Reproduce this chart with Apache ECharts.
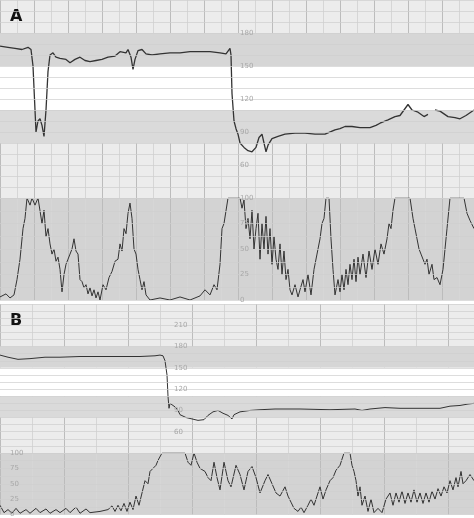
<!DOCTYPE html>
<html><head><meta charset="utf-8">
<script src="https://cdn.jsdelivr.net/npm/echarts@6/dist/echarts.min.js"></script>
<style>html,body{margin:0;padding:0;background:#fff}#chart{width:474px;height:518px}</style>
</head><body><div id="chart"></div>
<script>
// panel A: fetal heart rate (bpm) and uterine activity (%)
var fhrA = [[0,168],[8,167],[15,166],[22,165],[28,167],[31,165],[33,150],[35,110],[36,90],[38,100],[40,102],[42,96],[44,86],[46,110],[48,145],[50,160],[53,162],[56,158],[60,157],[66,156],[70,153],[75,156],[80,158],[85,155],[90,154],[96,155],[102,156],[108,158],[115,159],[120,163],[126,162],[128,165],[131,158],[133,147],[135,156],[138,164],[142,165],[146,161],[152,160],[160,161],[170,162],[180,162],[190,163],[200,163],[210,163],[220,162],[226,161],[230,166],[231,160],[232,125],[234,100],[236,93],[238,88],[240,80],[244,76],[248,73],[252,72],[256,76],[259,85],[262,88],[264,80],[266,72],[268,78],[272,84],[278,86],[285,88],[295,89],[305,89],[315,88],[325,88],[335,92],[340,93],[345,95],[352,95],[360,94],[370,94],[376,96],[380,98],[388,101],[395,104],[400,105],[404,110],[408,115],[412,110],[418,108],[424,104],[428,106],[null,null],[435,110],[440,109],[448,104],[455,103],[460,102],[466,105],[474,110]];
var tocoA = [[0,3],[6,6],[10,2],[14,5],[17,20],[20,40],[23,70],[25,80],[27,100],[30,93],[32,100],[35,93],[38,100],[40,100],[42,75],[44,88],[46,62],[48,70],[50,55],[52,45],[54,50],[56,38],[58,42],[60,30],[62,8],[64,25],[66,35],[68,40],[70,45],[72,50],[74,60],[76,48],[78,45],[80,20],[82,18],[84,12],[86,15],[88,6],[90,12],[92,4],[94,10],[96,2],[98,8],[100,0],[103,15],[106,10],[109,22],[112,28],[115,38],[118,40],[120,55],[122,48],[124,70],[126,65],[128,85],[130,95],[132,80],[134,50],[136,45],[138,30],[140,20],[142,10],[144,18],[146,5],[150,0],[160,2],[170,0],[180,3],[190,0],[200,4],[205,10],[210,5],[214,15],[217,10],[220,35],[222,70],[224,75],[228,100],[240,100],[242,90],[244,98],[246,70],[248,80],[250,60],[252,88],[254,50],[256,70],[258,85],[260,40],[262,75],[264,50],[266,82],[268,45],[270,70],[272,35],[274,62],[276,40],[278,30],[280,55],[282,25],[284,48],[286,20],[288,30],[290,10],[292,5],[295,15],[298,3],[300,10],[303,20],[305,8],[308,25],[311,5],[314,30],[317,45],[320,60],[322,75],[324,80],[326,100],[329,100],[331,60],[333,30],[335,5],[338,20],[340,8],[342,25],[344,10],[346,30],[348,15],[350,35],[352,20],[354,40],[356,18],[358,42],[360,25],[363,45],[366,22],[369,48],[372,30],[375,50],[378,35],[381,55],[384,45],[387,60],[389,75],[391,70],[393,88],[395,100],[410,100],[413,80],[415,70],[417,60],[419,50],[421,45],[423,40],[425,35],[427,40],[429,25],[432,35],[434,20],[437,22],[440,15],[443,30],[445,50],[447,70],[450,100],[464,100],[467,85],[470,78],[474,70]];
// panel B
var fhrB = [[0,168],[8,165],[18,162],[30,163],[45,165],[60,165],[80,166],[100,166],[120,166],[140,166],[155,167],[160,168],[163,167],[165,160],[167,140],[168,110],[169,93],[170,100],[172,98],[175,95],[178,90],[180,84],[186,80],[192,78],[198,76],[204,77],[208,83],[213,88],[218,90],[223,86],[228,83],[232,78],[234,84],[240,88],[250,90],[260,91],[275,92],[300,92],[330,91],[355,92],[362,90],[370,92],[385,94],[400,93],[420,93],[440,93],[450,96],[460,97],[468,99],[474,100]];
var tocoB = [[0,15],[4,3],[8,8],[12,2],[16,10],[20,2],[26,8],[30,2],[36,10],[40,3],[46,9],[50,2],[56,8],[60,3],[66,10],[70,3],[76,12],[80,2],[86,9],[90,3],[100,5],[108,8],[112,14],[115,5],[118,15],[121,6],[124,18],[127,5],[130,20],[133,8],[136,30],[139,15],[142,35],[145,55],[148,50],[150,70],[153,75],[156,80],[158,88],[162,100],[185,100],[188,85],[191,80],[194,100],[197,85],[200,75],[205,70],[208,60],[211,55],[214,85],[217,60],[220,40],[224,85],[228,55],[231,45],[236,80],[240,65],[244,40],[248,70],[252,78],[256,60],[260,35],[265,55],[268,65],[272,50],[276,35],[280,30],[285,45],[288,30],[291,20],[294,10],[298,5],[301,12],[304,3],[308,15],[311,25],[314,15],[317,30],[320,45],[323,25],[326,40],[330,55],[333,60],[336,72],[340,80],[344,100],[350,100],[352,80],[354,70],[356,55],[358,30],[360,45],[362,15],[365,30],[368,5],[371,25],[374,3],[378,10],[382,3],[386,25],[390,35],[393,15],[396,35],[399,20],[402,38],[405,18],[408,35],[411,20],[414,40],[417,20],[420,35],[423,18],[426,35],[429,20],[432,38],[435,25],[438,42],[441,30],[444,45],[447,35],[450,55],[453,40],[456,60],[458,45],[461,70],[463,50],[466,55],[470,65],[474,55]];
var fhrTicksA = [60, 90, 120, 150, 180];
var fhrTicksB = [60, 90, 120, 150, 180, 210];
var tocoTicks = [0, 25, 50, 75, 100];

var grid = '#bcbcbc', ink = '#333', lab = '#a8a8a8';
// chart time starts at 0; the paper grid lines are offset by shift
function xAx(gi, shift, iv) {
  return {type: 'value', gridIndex: gi, min: -shift, max: 474 - shift, interval: iv,
    axisLine: {show: false}, axisTick: {show: false}, axisLabel: {show: false},
    splitLine: {lineStyle: {color: grid, width: 1}},
    minorTick: {show: false, splitNumber: 2}, minorSplitLine: {show: true, lineStyle: {color: '#d6d6d6'}}};
}
function yAx(gi, min, max, iv, ticks, off) {
  return {type: 'value', gridIndex: gi, min: min, max: max, interval: iv, offset: off, z: 10,
    axisLine: {show: false}, axisTick: {show: false},
    axisLabel: {inside: true, color: lab, fontSize: 7, fontFamily: 'DejaVu Sans',
      formatter: function (v) { return ticks.indexOf(v) >= 0 ? v : ''; }},
    splitLine: {lineStyle: {color: '#cfcfcf', width: 0.7}}};
}
function bands(list) {
  return {silent: true, data: list.map(function (b) {
    return [{yAxis: b[0], itemStyle: {color: b[2]}}, {yAxis: b[1]}];
  })};
}
function trace(xi, data, shift, w, mark) {
  return {type: 'line', xAxisIndex: xi, yAxisIndex: xi, showSymbol: false, z: 3,
    data: data.map(function (p) { return p[0] === null ? [null, null] : [p[0] - shift, p[1]]; }),
    lineStyle: {color: ink, width: w}, markArea: mark};
}

var chart = echarts.init(document.getElementById('chart'));
chart.setOption({
  animation: false,
  title: [
    {text: 'A', left: 5, top: 4, textStyle: {fontSize: 16, fontWeight: 'bold', color: '#111', fontFamily: 'DejaVu Sans'}},
    {text: 'B', left: 5, top: 308, textStyle: {fontSize: 16, fontWeight: 'bold', color: '#111', fontFamily: 'DejaVu Sans'}}
  ],
  grid: [
    {left: 0, right: 0, top: 0, height: 198, show: true, backgroundColor: '#ececec', borderWidth: 0},
    {left: 0, right: 0, top: 198, height: 102, show: true, backgroundColor: '#d3d3d3', borderWidth: 0},
    {left: 0, right: 0, top: 304, height: 149, show: true, backgroundColor: '#ececec', borderWidth: 0},
    {left: 0, right: 0, top: 453, height: 65, show: true, backgroundColor: '#d3d3d3', borderWidth: 0}
  ],
  xAxis: [xAx(0, 5, 34), xAx(1, 5, 34), xAx(2, 25, 64), xAx(3, 25, 64)],
  yAxis: [yAx(0, 30, 210, 10, fhrTicksA, -232), yAx(1, 0, 100, 12.5, tocoTicks, -232),
          yAx(2, 30, 240, 10, fhrTicksB, -166), yAx(3, 0, 100, 12.5, tocoTicks, -2)],
  series: [
    trace(0, fhrA, 5, 1.3, bands([[150, 180, '#d6d6d6'], [110, 150, '#ffffff'], [80, 110, '#dadada']])),
    trace(1, tocoA, 5, 1),
    trace(2, fhrB, 25, 1, bands([[150, 180, '#d6d6d6'], [110, 150, '#ffffff'], [80, 110, '#dadada']])),
    trace(3, tocoB, 25, 1)
  ]
});
</script></body></html>
